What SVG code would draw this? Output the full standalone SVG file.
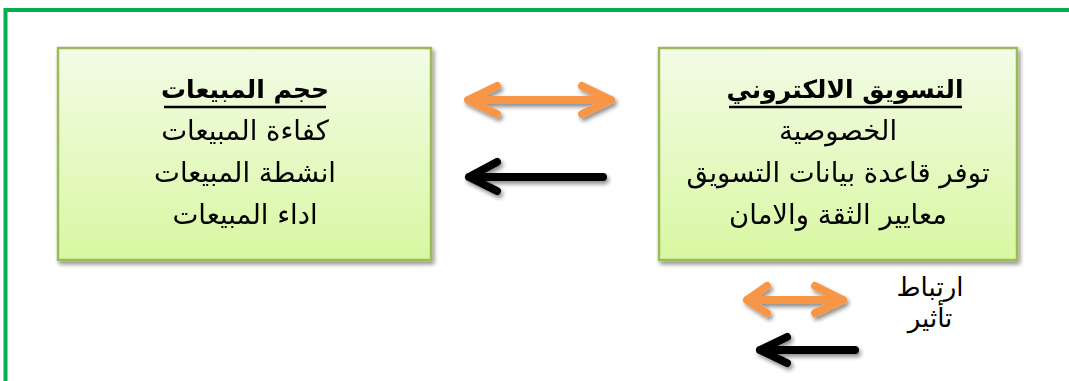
<svg xmlns="http://www.w3.org/2000/svg" width="1069" height="381" viewBox="0 0 1069 381">
<defs>
<linearGradient id="g" x1="0" y1="0" x2="0" y2="1">
<stop offset="0" stop-color="#F2FCE6"/>
<stop offset="1" stop-color="#D9F7A2"/>
</linearGradient>
<filter id="sh" x="-10%" y="-10%" width="125%" height="130%">
<feGaussianBlur in="SourceAlpha" stdDeviation="2"/>
<feOffset dx="2" dy="3" result="b"/>
<feComponentTransfer><feFuncA type="linear" slope="0.45"/></feComponentTransfer>
<feMerge><feMergeNode/><feMergeNode in="SourceGraphic"/></feMerge>
</filter>
<style>
.box{fill:url(#g);stroke:#9BBB59;stroke-width:2.5}
.t{font-family:"DejaVu Sans","Liberation Sans",sans-serif;font-size:27.5px;fill:#000;text-anchor:middle}
.h{font-weight:bold;font-size:25px}
.or{fill:none;stroke:#F79646;stroke-width:8;stroke-linecap:round;stroke-linejoin:round}
.bk{fill:none;stroke:#000;stroke-width:8;stroke-linecap:round;stroke-linejoin:round}
.lg{font-family:"DejaVu Sans","Liberation Sans",sans-serif;font-size:26px;fill:#000;text-anchor:middle}
</style>
</defs>
<rect width="1069" height="381" fill="#fff"/>
<path d="M5.5,381 V10 H1069" fill="none" stroke="#00B050" stroke-width="4"/>
<g id="node-sales" filter="url(#sh)">
<rect class="box" x="58" y="48" width="373" height="212"/>
<text class="t h" x="245" y="98">حجم المبيعات</text>
<line x1="164" y1="107" x2="326" y2="107" stroke="#000" stroke-width="2.5"/>
<text class="t" x="245" y="140">كفاءة المبيعات</text>
<text class="t" x="245" y="182">انشطة المبيعات</text>
<text class="t" x="245" y="224">اداء المبيعات</text>
</g>
<g id="node-emarketing" filter="url(#sh)">
<rect class="box" x="659" y="48" width="358" height="212"/>
<text class="t h" x="845" y="98">التسويق الالكتروني</text>
<line x1="729" y1="107" x2="962" y2="107" stroke="#000" stroke-width="2.5"/>
<text class="t" x="838" y="140">الخصوصية</text>
<text class="t" x="838" y="182">توفر قاعدة بيانات التسويق</text>
<text class="t" x="838" y="224">معايير الثقة والامان</text>
</g>
<g id="connectors" filter="url(#sh)">
<path class="or" d="M468,100 H611 M497,86 L468,100 L497,114 M582,86 L611,100 L582,114"/>
<path class="bk" d="M603,177 H469 M497,162 L469,177 L497,191"/>
<path class="or" d="M747,300 H843 M767,286 L747,300 L767,313 M815,286 L843,300 L815,313"/>
<path class="bk" d="M855,350 H760 M787,337 L760,350 L787,363"/>
</g>
<g id="legend">
<text class="lg" x="930" y="296">ارتباط</text>
<text class="lg" x="930" y="327">تأثير</text>
</g>
</svg>
